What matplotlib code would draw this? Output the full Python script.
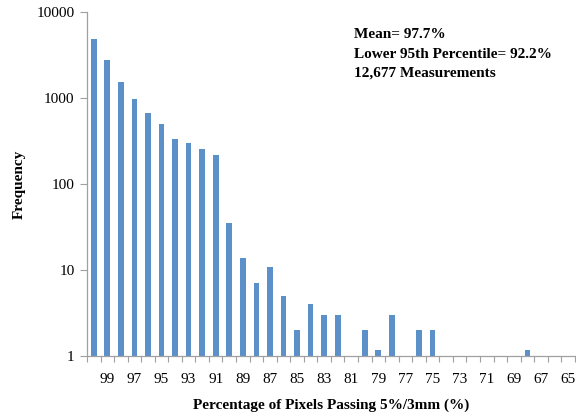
import matplotlib
matplotlib.use("Agg")
import matplotlib.pyplot as plt
import numpy as np

plt.rcParams['font.family'] = ['Liberation Serif', 'DejaVu Serif']

categories = list(range(100, 64, -1))
frequency = [4900, 2760, 1540, 990, 670, 500, 334, 300, 255, 217,
             35, 14, 7, 11, 5, 2, 4, 3, 3, 0,
             2, 1.17, 3, 0, 2, 2, 0, 0, 0, 0,
             0, 0, 1.17, 0, 0, 0]
annotation = ["Mean= 97.7%", "Lower 95th Percentile= 92.2%", "12,677 Measurements"]

fig = plt.figure(figsize=(5.76, 4.2), dpi=100)
ax = fig.add_axes([0.151, 0.152, 0.847, 0.819])

x = np.arange(len(categories))
vals = np.array(frequency, dtype=float)
mask = vals > 0
ax.bar(x[mask], vals[mask], width=0.42, color='#5b90c9', edgecolor='none')

ax.set_yscale('log')
ax.set_ylim(1, 10000)
ax.set_xlim(-0.5, len(categories) - 0.5)
ax.set_yticks([1, 10, 100, 1000, 10000])
ax.set_yticklabels(['1', '10', '100', '1000', '10000'], fontsize=11)
ax.yaxis.set_minor_locator(matplotlib.ticker.NullLocator())

ax.set_xticks(x[1::2])
ax.set_xticklabels([str(c) for c in categories[1::2]], fontsize=11)
ax.set_xticks(np.arange(-0.5, len(categories), 1.0), minor=True)
ax.tick_params(axis='x', which='major', length=0, pad=12)
ax.tick_params(axis='x', which='minor', length=4, color='#a0a0a0', width=0.8)
ax.tick_params(axis='y', which='major', length=5, color='#a0a0a0', width=0.8, pad=4)

for s in ['top', 'right']:
    ax.spines[s].set_visible(False)
for s in ['left', 'bottom']:
    ax.spines[s].set_color('#a0a0a0')
    ax.spines[s].set_linewidth(0.9)

ax.set_ylabel('Frequency', fontsize=11, fontweight='bold')
ax.yaxis.set_label_coords(-0.125, 0.5)
ax.set_xlabel('Percentage of Pixels Passing 5%/3mm (%)', fontsize=11, fontweight='bold', labelpad=9)

for i, line in enumerate(annotation):
    fig.text(354/576, 1 - (35 + i*19)/420, line, fontsize=11, fontweight='bold', va='center', ha='left')

fig.savefig('out.png', dpi=100)
